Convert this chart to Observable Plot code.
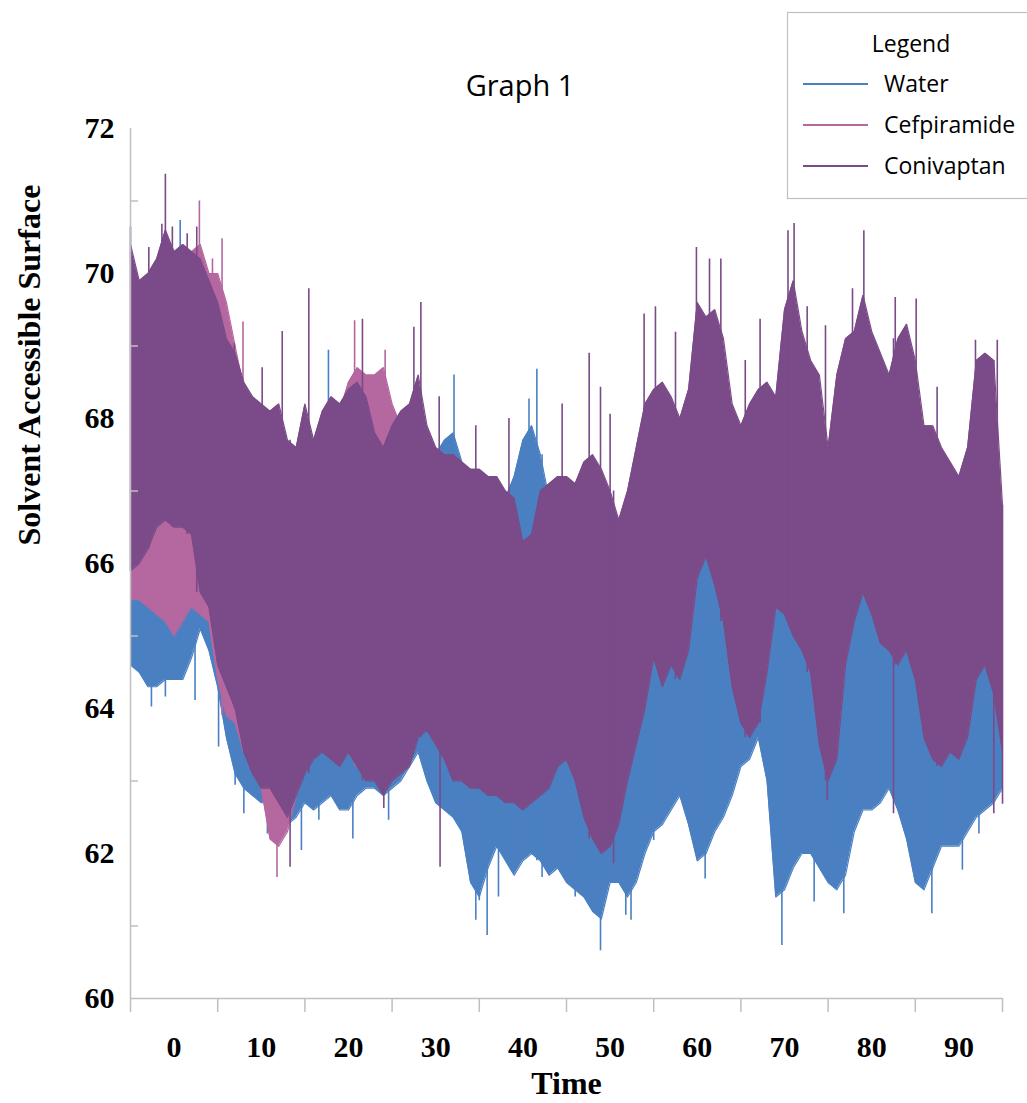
<!DOCTYPE html>
<html>
<head>
<meta charset="utf-8">
<script src="https://cdn.jsdelivr.net/npm/d3@7"></script>
<script src="https://cdn.jsdelivr.net/npm/@observablehq/plot@0.6"></script>
<style>
  body { margin: 0; background: #ffffff; }
  #wrap { position: relative; width: 1027px; height: 1103px; overflow: hidden; background: #fff; }
  #wrap > svg { position: absolute; left: 0; top: 0; }
</style>
</head>
<body>
<div id="wrap"></div>
<script>
// ---- chart texts ----
const chartTitle = "Graph 1";
const xTitle = "Time";
const yTitle = "Solvent Accessible Surface";
const legendTitle = "Legend";
const seriesNames = ["Water", "Cefpiramide", "Conivaptan"];
const seriesColors = ["#4a80c2", "#b5679f", "#7a4b88"];

// ---- axis ticks ----
const xLabelTicks = [0, 10, 20, 30, 40, 50, 60, 70, 80, 90];
const xMinorTicks = [-5, 5, 15, 25, 35, 45, 55, 65, 75, 85, 95];
const yLabelTicks = [60, 62, 64, 66, 68, 70, 72];
const yMinorTicks = [61, 63, 65, 67, 69, 71];

// ---- sampling grid: one envelope reading per time unit, t = -5 .. 95 ----
const sampleTimes = d3.range(-5, 96);

// Water: lower / upper envelope
const waterLo = [
  64.6, 64.5, 64.3, 64.3, 64.4, 64.4, 64.4, 64.7, 65.1, 64.8,
  64.3, 63.6, 63.1, 62.9, 62.8, 62.7, 62.7, 62.5, 62.4, 62.5,
  62.7, 62.6, 62.7, 62.8, 62.6, 62.6, 62.8, 62.9, 62.9, 62.8,
  62.9, 63.0, 63.2, 63.4, 63.0, 62.7, 62.6, 62.5, 62.3, 61.6,
  61.4, 61.8, 62.1, 61.9, 61.7, 61.9, 62.0, 61.9, 61.7, 61.8,
  61.6, 61.5, 61.4, 61.2, 61.1, 61.6, 61.6, 61.4, 61.6, 62.0,
  62.3, 62.4, 62.6, 62.8, 62.4, 61.9, 62.0, 62.3, 62.5, 62.8,
  63.2, 63.3, 63.6, 63.0, 61.4, 61.5, 61.8, 62.0, 62.0, 61.8,
  61.6, 61.5, 61.7, 62.3, 62.6, 62.6, 62.7, 62.9, 62.6, 62.2,
  61.6, 61.5, 61.8, 62.1, 62.1, 62.1, 62.3, 62.5, 62.6, 62.7,
  62.9
];
const waterHi = [
  69.9, 69.7, 69.8, 69.9, 70.2, 70.0, 70.1, 70.0, 69.9, 69.5,
  69.2, 68.7, 68.5, 68.1, 67.9, 67.8, 67.8, 67.7, 67.4, 67.3,
  67.6, 67.4, 67.6, 67.9, 67.8, 67.9, 67.9, 67.8, 67.5, 67.3,
  67.8, 67.9, 67.8, 67.9, 67.6, 67.5, 67.7, 67.8, 67.4, 67.2,
  67.0, 66.9, 66.8, 66.9, 67.2, 67.7, 67.9, 67.5, 66.9, 66.8,
  66.5, 66.3, 66.0, 65.8, 65.5, 65.5, 65.6, 65.5, 65.7, 65.8,
  66.0, 65.6, 65.8, 65.7, 66.0, 66.5, 66.6, 66.3, 66.0, 65.5,
  65.2, 65.0, 65.2, 65.7, 66.0, 65.9, 65.7, 65.5, 65.3, 64.8,
  64.5, 64.8, 65.5, 66.0, 66.2, 66.0, 65.7, 65.6, 65.4, 65.6,
  65.2, 64.8, 64.5, 64.3, 64.5, 64.4, 64.8, 65.2, 65.3, 65.0,
  64.3
];

// Cefpiramide: lower / upper envelope
const cefLo = [
  65.5, 65.5, 65.4, 65.3, 65.2, 65.0, 65.2, 65.4, 65.3, 65.2,
  64.4, 63.9, 63.8, 63.4, 63.2, 62.9, 62.2, 62.1, 62.3, 62.8,
  63.2, 63.4, 63.5, 63.4, 63.3, 63.4, 63.2, 63.1, 63.1, 62.9,
  63.1, 63.2, 63.3, 63.7, 63.8, 63.6, 63.4, 63.1, 63.1, 63.0,
  63.0, 62.9, 62.9, 62.8, 62.8, 62.7, 62.8, 62.9, 63.0, 63.3,
  63.4, 63.1, 62.6, 62.3, 62.1, 62.2, 62.5, 63.1, 63.6, 64.1,
  64.8, 64.4, 64.7, 64.5, 64.9, 65.9, 66.2, 65.8, 65.3, 64.4,
  63.9, 63.7, 63.9, 64.6, 65.5, 65.4, 65.1, 64.9, 64.6, 63.6,
  63.1, 63.4, 64.7, 65.3, 65.7, 65.4, 65.0, 64.9, 64.7, 64.9,
  64.5, 63.7, 63.4, 63.3, 63.5, 63.4, 63.7, 64.5, 64.7, 64.3,
  63.5
];
const cefHi = [
  70.2, 69.8, 69.9, 70.1, 70.4, 70.2, 70.3, 70.3, 70.4, 70.0,
  70.0, 69.6, 69.0, 68.4, 68.2, 68.0, 67.9, 68.0, 67.5, 67.4,
  67.8, 67.5, 67.9, 68.1, 68.1, 68.5, 68.7, 68.6, 68.6, 68.7,
  68.2, 67.9, 68.0, 68.2, 67.7, 67.4, 67.3, 67.2, 67.1, 67.0,
  67.0, 66.9, 66.9, 66.7, 66.5, 66.0, 66.1, 66.7, 66.8, 66.9,
  66.9, 66.8, 67.1, 67.2, 67.0, 66.7, 66.4, 66.7, 67.3, 67.9,
  68.1, 68.2, 68.0, 67.7, 68.1, 69.3, 69.1, 69.2, 68.8, 67.9,
  67.6, 67.9, 68.1, 68.2, 68.0, 69.2, 69.6, 68.9, 68.5, 68.3,
  67.3, 68.3, 68.8, 68.9, 69.4, 68.9, 68.6, 68.3, 68.8, 69.0,
  68.5, 67.6, 67.6, 67.3, 67.1, 66.9, 67.3, 68.5, 68.6, 68.5,
  66.5
];

// Conivaptan: lower / upper envelope
const conLo = [
  65.9, 66.0, 66.2, 66.5, 66.6, 66.5, 66.5, 66.4, 65.6, 65.4,
  64.6, 64.3, 64.0, 63.4, 63.1, 62.9, 62.9, 62.7, 62.5, 62.8,
  63.1, 63.3, 63.4, 63.3, 63.2, 63.4, 63.2, 63.0, 63.0, 62.8,
  63.0, 63.1, 63.2, 63.6, 63.7, 63.5, 63.3, 63.0, 63.0, 62.9,
  62.9, 62.8, 62.8, 62.7, 62.7, 62.6, 62.7, 62.8, 62.9, 63.2,
  63.3, 63.0, 62.5, 62.2, 62.0, 62.1, 62.4, 63.0, 63.5, 64.0,
  64.7, 64.3, 64.6, 64.4, 64.8, 65.8, 66.1, 65.7, 65.2, 64.3,
  63.8, 63.6, 63.8, 64.5, 65.4, 65.3, 65.0, 64.8, 64.5, 63.5,
  63.0, 63.3, 64.6, 65.2, 65.6, 65.3, 64.9, 64.8, 64.6, 64.8,
  64.4, 63.6, 63.3, 63.2, 63.4, 63.3, 63.6, 64.4, 64.6, 64.2,
  63.4
];
const conHi = [
  70.4, 69.9, 70.0, 70.2, 70.6, 70.3, 70.4, 70.3, 70.2, 69.9,
  69.6, 69.1, 68.9, 68.5, 68.3, 68.2, 68.1, 68.2, 67.7, 67.6,
  68.2, 67.7, 68.1, 68.3, 68.2, 68.4, 68.5, 68.3, 67.8, 67.6,
  67.9, 68.1, 68.2, 68.6, 67.9, 67.6, 67.5, 67.5, 67.4, 67.3,
  67.3, 67.2, 67.2, 67.0, 66.9, 66.3, 66.4, 67.0, 67.1, 67.2,
  67.2, 67.1, 67.4, 67.5, 67.3, 67.0, 66.6, 67.0, 67.6, 68.2,
  68.4, 68.5, 68.3, 68.0, 68.4, 69.6, 69.4, 69.5, 69.1, 68.2,
  67.9, 68.2, 68.4, 68.5, 68.3, 69.5, 69.9, 69.2, 68.8, 68.6,
  67.6, 68.6, 69.1, 69.2, 69.7, 69.2, 68.9, 68.6, 69.1, 69.3,
  68.8, 67.9, 67.9, 67.6, 67.4, 67.2, 67.6, 68.8, 68.9, 68.8,
  66.8
];

// ---- single spikes (time, extreme value) ----
const waterUpSpikeT   = [0.7, 17.7, 32.1, 40.7, 41.6];
const waterUpSpikeV   = [70.73, 68.94, 68.6, 68.27, 68.68];
const waterDownSpikeT = [-2.6, -1.0, 2.4, 5.1, 7.0, 8.0, 10.7, 14.6, 16.6, 20.5, 24.6, 34.6, 35.0, 35.9, 37.2, 42.2,
                         46.0, 48.9, 51.8, 52.4, 55.0, 60.9, 69.7, 73.4, 76.8, 86.9, 90.4, 92.3];
const waterDownSpikeV = [64.02, 64.16, 64.11, 63.47, 62.94, 62.55, 62.27, 62.04, 62.46, 62.2, 62.46, 61.08, 61.35, 60.87, 61.4, 61.67,
                         61.4, 60.66, 61.15, 61.08, 62.18, 61.65, 60.73, 61.33, 61.17, 61.17, 61.77, 62.27];
const cefUpSpikeT     = [2.9, 4.4, 5.5, 7.9, 20.7, 24.2];
const cefUpSpikeV     = [71.0, 70.2, 70.48, 69.33, 69.35, 68.94];
const cefDownSpikeT   = [11.8];
const cefDownSpikeV   = [61.67];
const conUpSpikeT     = [-5.0, -2.9, -1.4, -1.0, -0.2, 1.5, 2.6, 6.9, 10.1, 12.4, 15.45, 21.6, 27.5, 28.3, 30.4, 34.6, 38.4, 44.5,
                         47.6, 48.9, 50.0, 53.9, 55.2, 57.5, 59.9, 61.4, 62.7, 65.5, 67.2, 70.4, 71.1, 72.6, 74.7, 77.8, 79.1,
                         82.7, 85.1, 87.5, 91.9, 94.4];
const conUpSpikeV     = [70.64, 70.36, 70.68, 71.37, 70.64, 70.55, 70.64, 69.03, 68.7, 69.2, 69.79, 69.37, 69.26, 69.6, 68.3, 67.9, 68.0, 68.2,
                         68.9, 68.43, 68.06, 69.44, 69.54, 69.19, 70.36, 70.2, 70.2, 68.8, 69.37, 70.59, 70.69, 69.54, 69.28, 69.79, 70.59,
                         69.67, 69.65, 68.43, 69.08, 69.08];
const conDownSpikeT   = [13.3, 24.05, 30.5, 50.4, 74.9, 82.5, 94.0, 95.0];
const conDownSpikeV   = [61.81, 62.62, 61.81, 61.86, 62.73, 62.55, 62.55, 62.68];

// ---- build tables ----
const makeBand = (lo, hi) => sampleTimes.map((t, i) => ({t, lo: lo[i], hi: hi[i]}));
const sampleIndex = t => Math.max(0, Math.min(sampleTimes.length - 1, Math.round(t) + 5));
const makeSpikes = (ts, vs, base) => ts.map((t, i) => ({t, v: vs[i], base: base[sampleIndex(t)]}));

const series = [
  {band: makeBand(waterLo, waterHi), up: makeSpikes(waterUpSpikeT, waterUpSpikeV, waterLo), down: makeSpikes(waterDownSpikeT, waterDownSpikeV, waterHi)},
  {band: makeBand(cefLo, cefHi), up: makeSpikes(cefUpSpikeT, cefUpSpikeV, cefLo), down: makeSpikes(cefDownSpikeT, cefDownSpikeV, cefHi)},
  {band: makeBand(conLo, conHi), up: makeSpikes(conUpSpikeT, conUpSpikeV, conLo), down: makeSpikes(conDownSpikeT, conDownSpikeV, conHi)}
];

const serif = "'Liberation Serif', 'DejaVu Serif', serif";
const sans = "'Open Sans', 'Liberation Sans', sans-serif";
const axisGray = "#bfbfbf";

const seriesMarks = series.flatMap((s, k) => [
  Plot.areaY(s.band, {x: "t", y1: "lo", y2: "hi", fill: seriesColors[k], curve: "linear"}),
  Plot.lineY(s.band, {x: "t", y: "hi", stroke: seriesColors[k], strokeWidth: 1.2}),
  Plot.lineY(s.band, {x: "t", y: "lo", stroke: seriesColors[k], strokeWidth: 1.2}),
  Plot.ruleX(s.up, {x: "t", y1: "base", y2: "v", stroke: seriesColors[k], strokeWidth: 1.6}),
  Plot.ruleX(s.down, {x: "t", y1: "base", y2: "v", stroke: seriesColors[k], strokeWidth: 1.6})
]);

const chart = Plot.plot({
  width: 1027,
  height: 1103,
  marginLeft: 130,
  marginRight: 25,
  marginTop: 128,
  marginBottom: 105,
  style: {background: "transparent", fontFamily: serif},
  x: {domain: [-5, 95], label: null},
  y: {domain: [60, 72], label: null},
  marks: [
    ...seriesMarks,
    Plot.ruleX([-5], {stroke: axisGray, strokeWidth: 1.5}),
    Plot.ruleY([60], {stroke: axisGray, strokeWidth: 1.5}),
    Plot.tickY(yMinorTicks, {y: d => d, stroke: axisGray, strokeWidth: 1.5, insetRight: 864}),
    Plot.axisY(yLabelTicks, {tickSize: 0, tickPadding: 16, tickFormat: d => String(d),
      fontSize: 30, fontWeight: "bold", fontFamily: serif, fill: "#000", label: null}),
    Plot.axisX(xMinorTicks, {tickSize: 14, stroke: axisGray, strokeWidth: 1.5, tickFormat: () => "", label: null}),
    Plot.axisX(xLabelTicks, {tickSize: 0, tickPadding: 37, tickFormat: d => String(d),
      fontSize: 30, fontWeight: "bold", fontFamily: serif, fill: "#000", label: null}),
    Plot.text([yTitle], {frameAnchor: "left", text: d => d, rotate: -90, dx: -101, dy: -18,
      fontSize: 32, fontWeight: "bold", fontFamily: serif, fill: "#000"}),
    Plot.text([xTitle], {frameAnchor: "bottom", text: d => d, dy: 95,
      fontSize: 32, fontWeight: "bold", fontFamily: serif, fill: "#000"})
  ]
});

const wrap = document.getElementById("wrap");
wrap.appendChild(chart);

// ---- title and legend overlay ----
const overlay = d3.select(wrap).append("svg")
  .attr("width", 1027).attr("height", 1103)
  .style("pointer-events", "none");

overlay.append("text")
  .attr("x", 520).attr("y", 96)
  .attr("text-anchor", "middle")
  .attr("font-family", sans).attr("font-size", 29).attr("fill", "#000")
  .text(chartTitle);

const lg = overlay.append("g");
lg.append("rect")
  .attr("x", 787.5).attr("y", 12.5).attr("width", 260).attr("height", 186)
  .attr("fill", "#fff").attr("stroke", axisGray).attr("stroke-width", 1.2);
lg.append("text")
  .attr("x", 911).attr("y", 52)
  .attr("text-anchor", "middle")
  .attr("font-family", sans).attr("font-size", 23).attr("fill", "#000")
  .text(legendTitle);
const legendRowsY = [84, 125, 166];
seriesNames.forEach((name, i) => {
  lg.append("line")
    .attr("x1", 803).attr("x2", 868)
    .attr("y1", legendRowsY[i]).attr("y2", legendRowsY[i])
    .attr("stroke", seriesColors[i]).attr("stroke-width", 2);
  lg.append("text")
    .attr("x", 884).attr("y", legendRowsY[i] + 8)
    .attr("font-family", sans).attr("font-size", 23).attr("fill", "#000")
    .text(name);
});
</script>
</body>
</html>
